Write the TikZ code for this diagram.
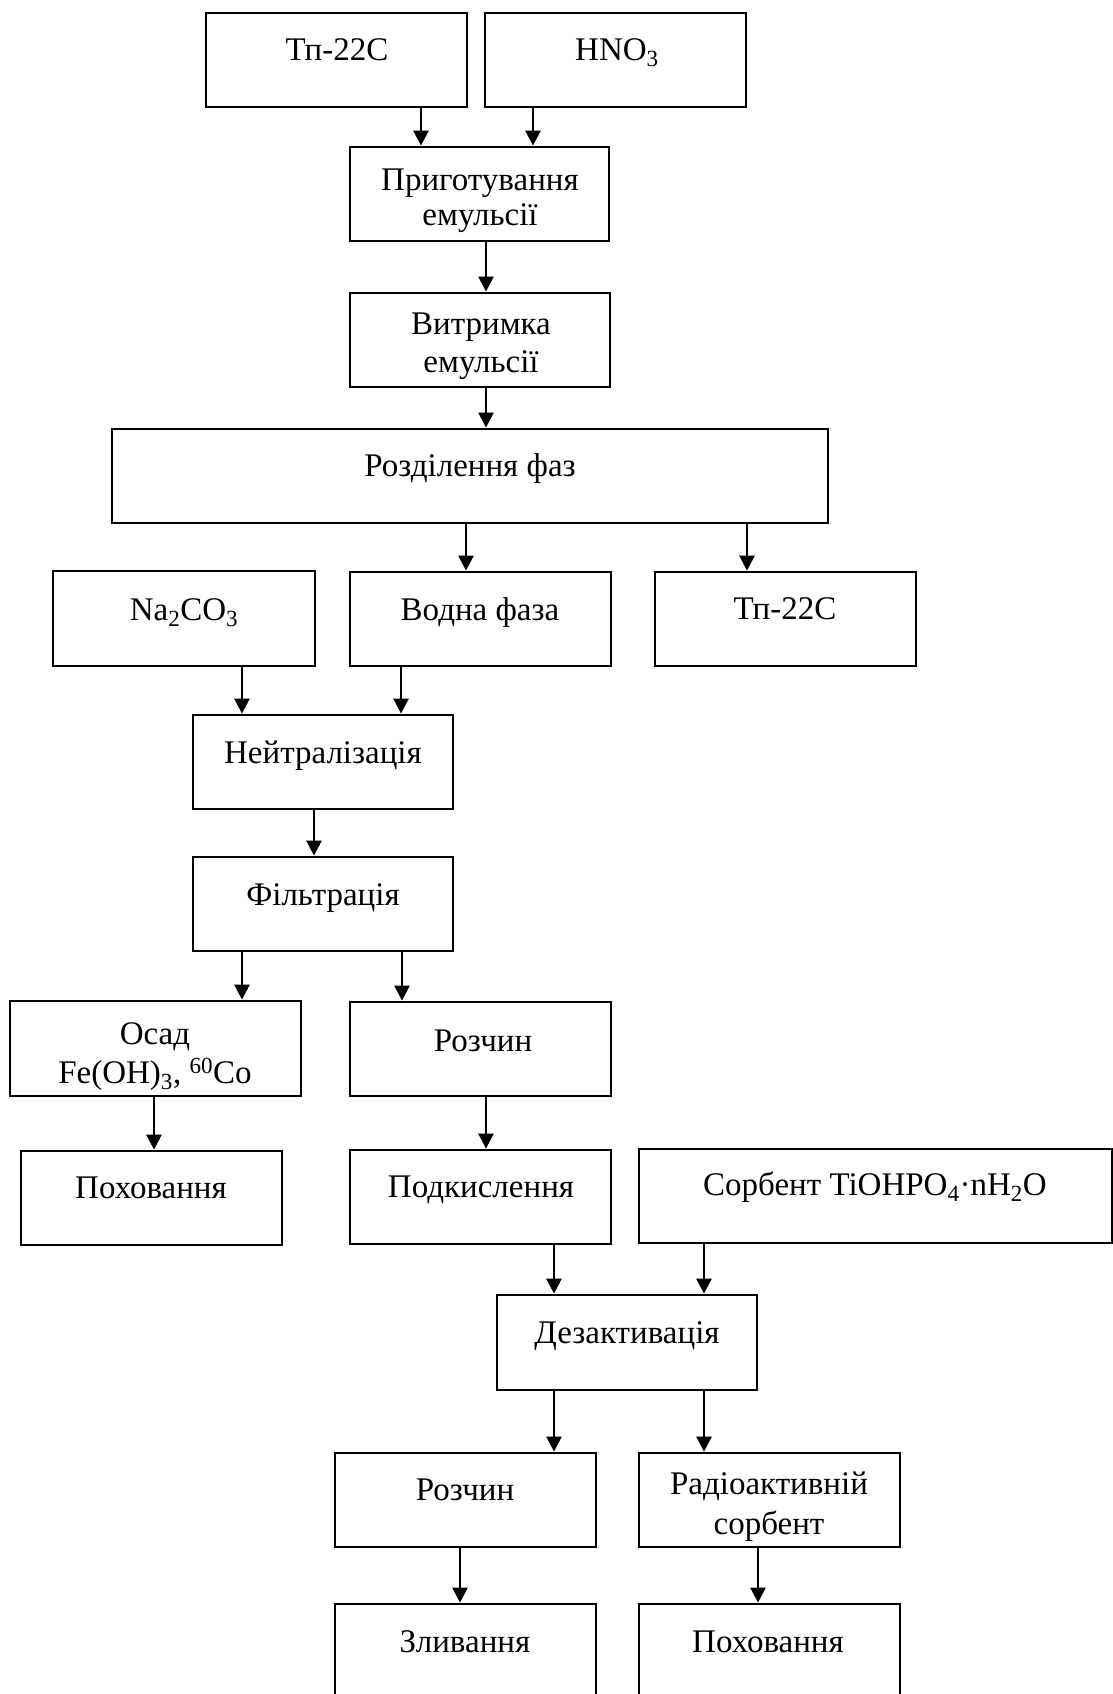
\documentclass[tikz,border=0pt]{standalone}
\usepackage{fontspec}
\setmainfont{Liberation Serif}
\usetikzlibrary{arrows.meta}
\newcommand\mkbox[5]{%
  \pgfmathsetmacro\mkbw{#4-#2}\pgfmathsetmacro\mkbh{#5-#3}%
  \node[boxst, minimum width=\mkbw pt, minimum height=\mkbh pt] (#1) at ({(#2+#4)/2},{(#3+#5)/2}) {};}
\newcommand\conn[3]{%
  \draw[arrst] (perpendicular cs: horizontal line through={(#2.south)}, vertical line through={(#1,0)})
    -- (perpendicular cs: horizontal line through={(#3.north)}, vertical line through={(#1,0)});}
\begin{document}
\begin{tikzpicture}[x=1pt,y=-1pt,
  boxst/.style={draw, line width=2.8pt, rectangle, inner sep=0pt},
  arrst/.style={line width=2.6pt, -{Triangle[length=15pt,width=15pt]}},
  txt/.style={inner sep=0pt, anchor=base, font=\fontsize{33}{38}\selectfont}]
\useasboundingbox (0,0) rectangle (1113,1694);
\clip (0,0) rectangle (1113,1694);
% boxes
\mkbox{tpa}{206}{13}{467}{107}
\mkbox{hno}{485}{13}{746}{107}
\mkbox{prep}{350}{147}{609}{241}
\mkbox{vytr}{350}{293}{610}{387}
\mkbox{rozd}{112}{429}{828}{523}
\mkbox{na}{53}{571}{315}{666}
\mkbox{vod}{350}{572}{611}{666}
\mkbox{tpb}{655}{572}{916}{666}
\mkbox{neut}{193}{715}{453}{809}
\mkbox{filt}{193}{857}{453}{951}
\mkbox{osad}{10}{1001}{301}{1096}
\mkbox{rozch}{350}{1002}{611}{1096}
\mkbox{poha}{21}{1151}{282}{1245}
\mkbox{podk}{350}{1150}{611}{1244}
\mkbox{sorb}{639}{1149}{1112}{1243}
\mkbox{dez}{497}{1295}{757}{1390}
\mkbox{rozchb}{335}{1453}{596}{1547}
\mkbox{rad}{639}{1453}{900}{1547}
\mkbox{zliv}{335}{1604}{596}{1698}
\mkbox{pohb}{639}{1604}{900}{1698}
% texts
\node[txt] (tpat) at (337,61) {Тп-22С};
\node[txt] (hnot) at (617,60) {HNO\textsubscript{3}};
\node[txt] (prepta) at (480,190) {Приготування};
\node[txt] (preptb) at (480,225) {емульсії};
\node[txt] (vytrta) at (481,334) {Витримка};
\node[txt] (vytrtb) at (481,372) {емульсії};
\node[txt] (rozdt) at (470,476) {Розділення фаз};
\node[txt] (nat) at (184,620) {Na\textsubscript{2}CO\textsubscript{3}};
\node[txt] (vodt) at (480,620) {Водна фаза};
\node[txt] (tpbt) at (785,619) {Тп-22С};
\node[txt] (neutt) at (323,763) {Нейтралізація};
\node[txt] (filtt) at (323,905) {Фільтрація};
\node[txt] (osadta) at (155,1044) {Осад};
\node[txt] (osadtb) at (155,1083) {Fe(OH)\textsubscript{3}, \textsuperscript{60}Co};
\node[txt] (rozcht) at (483,1051) {Розчин};
\node[txt] (pohat) at (151,1198) {Поховання};
\node[txt] (podkt) at (481,1197) {Подкислення};
\node[txt] (sorbt) at (875,1195) {Сорбент TiOHPO\textsubscript{4}·nH\textsubscript{2}O};
\node[txt] (dezt) at (627,1343) {Дезактивація};
\node[txt] (rozchbt) at (465,1500) {Розчин};
\node[txt] (radta) at (769,1494) {Радіоактивній};
\node[txt] (radtb) at (769,1534) {сорбент};
\node[txt] (zlivt) at (465,1652) {Зливання};
\node[txt] (pohbt) at (768,1652) {Поховання};
% connectors
\conn{421}{tpa}{prep}
\conn{533}{hno}{prep}
\conn{486}{prep}{vytr}
\conn{486}{vytr}{rozd}
\conn{466}{rozd}{vod}
\conn{747}{rozd}{tpb}
\conn{242}{na}{neut}
\conn{401}{vod}{neut}
\conn{314}{neut}{filt}
\conn{242}{filt}{osad}
\conn{402}{filt}{rozch}
\conn{154}{osad}{poha}
\conn{486}{rozch}{podk}
\conn{554}{podk}{dez}
\conn{704}{sorb}{dez}
\conn{554}{dez}{rozchb}
\conn{704}{dez}{rad}
\conn{460}{rozchb}{zliv}
\conn{758}{rad}{pohb}
\end{tikzpicture}
\end{document}
